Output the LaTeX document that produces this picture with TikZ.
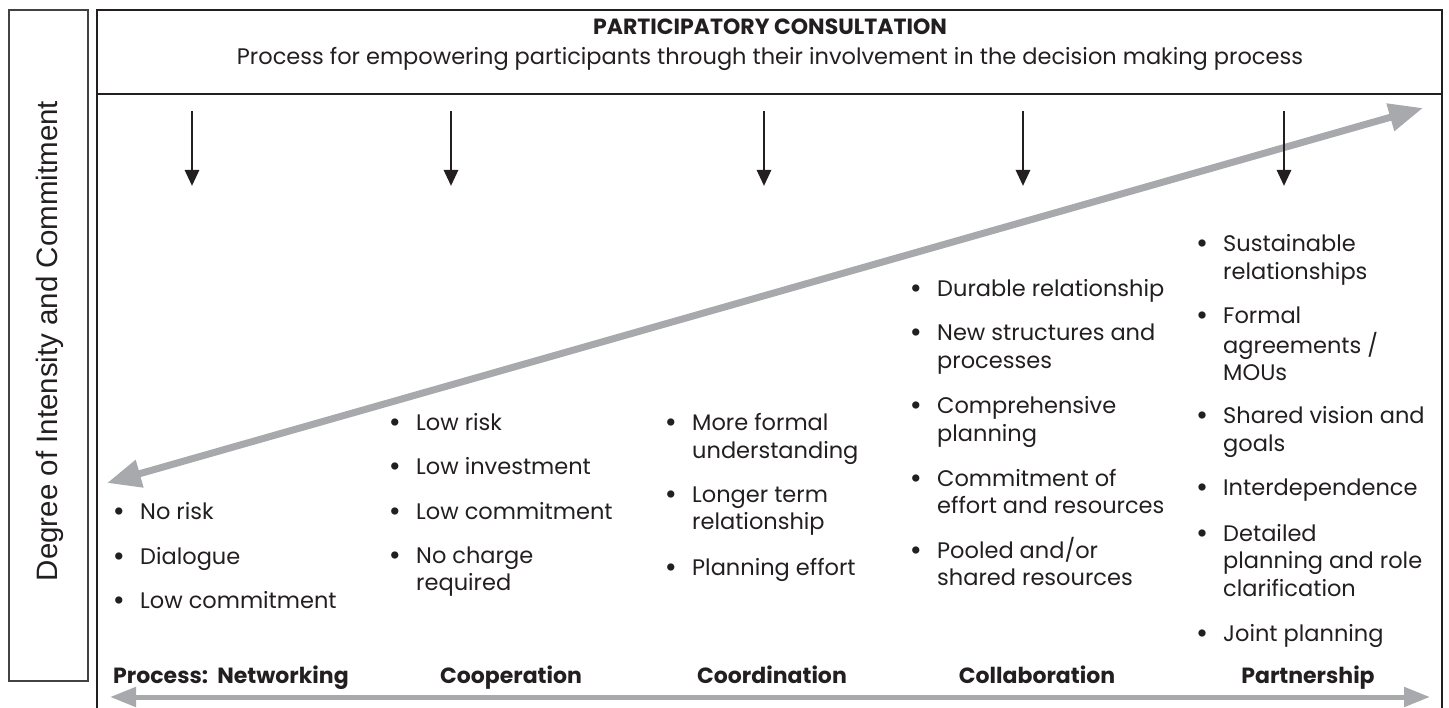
\documentclass[tikz,border=0pt]{standalone}
\usepackage{fontspec}
\setmainfont{Poppins}
\newfontfamily\arialf{Liberation Sans}
\usetikzlibrary{arrows.meta}
\definecolor{arrgray}{RGB}{167,169,172}
\definecolor{ink}{RGB}{35,31,32}
\newcommand\bitem[4]{%
  \node[bul] (#1b) at (#2-21,#3) {•};
  \node[itm] (#1) at (#2,#3) {\begin{tabular}[t]{@{}l@{}}#4\end{tabular}};}
\begin{document}
\begin{tikzpicture}[x=1pt,y=-1pt,
  bul/.style={anchor=base,inner sep=0pt,font=\bfseries\fontsize{24}{27.5}\selectfont,text=ink},
  itm/.style={anchor=base west,inner sep=0pt,font=\fontsize{22.5}{27.5}\selectfont,text=ink},
  proc/.style={anchor=base,inner sep=0pt,font=\bfseries\fontsize{22}{26}\selectfont,text=ink},
  downarr/.style={-{Triangle[length=16pt,width=14pt]},line width=2.8pt,draw=ink},
  garrow/.style={{Triangle[length=34pt,width=27pt]}-{Triangle[length=34pt,width=27pt]},line width=7pt,draw=arrgray},
  barrow/.style={{Triangle[length=26pt,width=19pt]}-{Triangle[length=26pt,width=19pt]},line width=5pt,draw=arrgray},
  frame/.style={line width=2.5pt,draw=ink},
  sidebox/.style={line width=1.3pt,draw=ink!85}
]
\useasboundingbox (0,0) rectangle (1449,708);
% side box
\draw[sidebox] (9,10) rectangle (88,681);
\node[rotate=90,inner sep=0pt,font=\arialf\fontsize{29.5}{32}\selectfont,text=ink] (side) at (50,341) {Degree of Intensity and Commitment};
% main frame
\draw[frame] (97,720) -- (97,10) -- (1442,10) -- (1442,720);
\draw[frame] (97,94) -- (1442,94);
\node[anchor=base,inner sep=0pt,font=\bfseries\fontsize{22}{26}\selectfont,text=ink] (title) at (770,35) {PARTICIPATORY CONSULTATION};
\node[anchor=base,inner sep=0pt,font=\fontsize{22.5}{26}\selectfont,text=ink] (sub) at (770,65) {Process for empowering participants through their involvement in the decision making process};
% diagonal arrow
\coordinate (dl) at (107,483);
\coordinate (dr) at (1423,108);
\draw[garrow] (dl) -- (dr);
% down arrows
\foreach \i/\x in {1/192,2/451,3/764,4/1023,5/1284}{
  \coordinate (s\i) at (\x,111);
  \coordinate (e\i) at (\x,186);
  \draw[downarr] (s\i) -- (e\i);
}
% column 1
\bitem{n1}{140}{519}{No risk}
\bitem{n2}{140}{564}{Dialogue}
\bitem{n3}{140}{608}{Low commitment}
% column 2
\bitem{c1}{416}{431}{Low risk}
\bitem{c2}{416}{475}{Low investment}
\bitem{c3}{416}{519}{Low commitment}
\bitem{c4}{416}{563}{No charge\\required}
% column 3
\bitem{o1}{692}{431}{More formal\\understanding}
\bitem{o2}{692}{502}{Longer term\\relationship}
\bitem{o3}{692}{575}{Planning effort}
% column 4
\bitem{l1}{937}{297}{Durable relationship}
\bitem{l2}{937}{341}{New structures and\\processes}
\bitem{l3}{937}{414}{Comprehensive\\planning}
\bitem{l4}{937}{486}{Commitment of\\effort and resources}
\bitem{l5}{937}{558}{Pooled and/or\\shared resources}
% column 5
\bitem{p1}{1223}{252}{Sustainable\\relationships}
\bitem{p2}{1223}{324}{Formal\\agreements /\\MOUs}
\bitem{p3}{1223}{424}{Shared vision and\\goals}
\bitem{p4}{1223}{496}{Interdependence}
\bitem{p5}{1223}{541}{Detailed\\planning and role\\clarification}
\bitem{p6}{1223}{641}{Joint planning}
% process labels
\node[proc] (net) at (231,683) {Process:\ \ Networking};
\node[proc] (coop) at (511,683) {Cooperation};
\node[proc] (coord) at (772,683) {Coordination};
\node[proc] (coll) at (1037,683) {Collaboration};
\node[proc] (part) at (1308,683) {Partnership};
% bottom arrow
\coordinate (bl) at (110,697);
\coordinate (br) at (1430,697);
\draw[barrow] (bl) -- (br);
\end{tikzpicture}
\end{document}
